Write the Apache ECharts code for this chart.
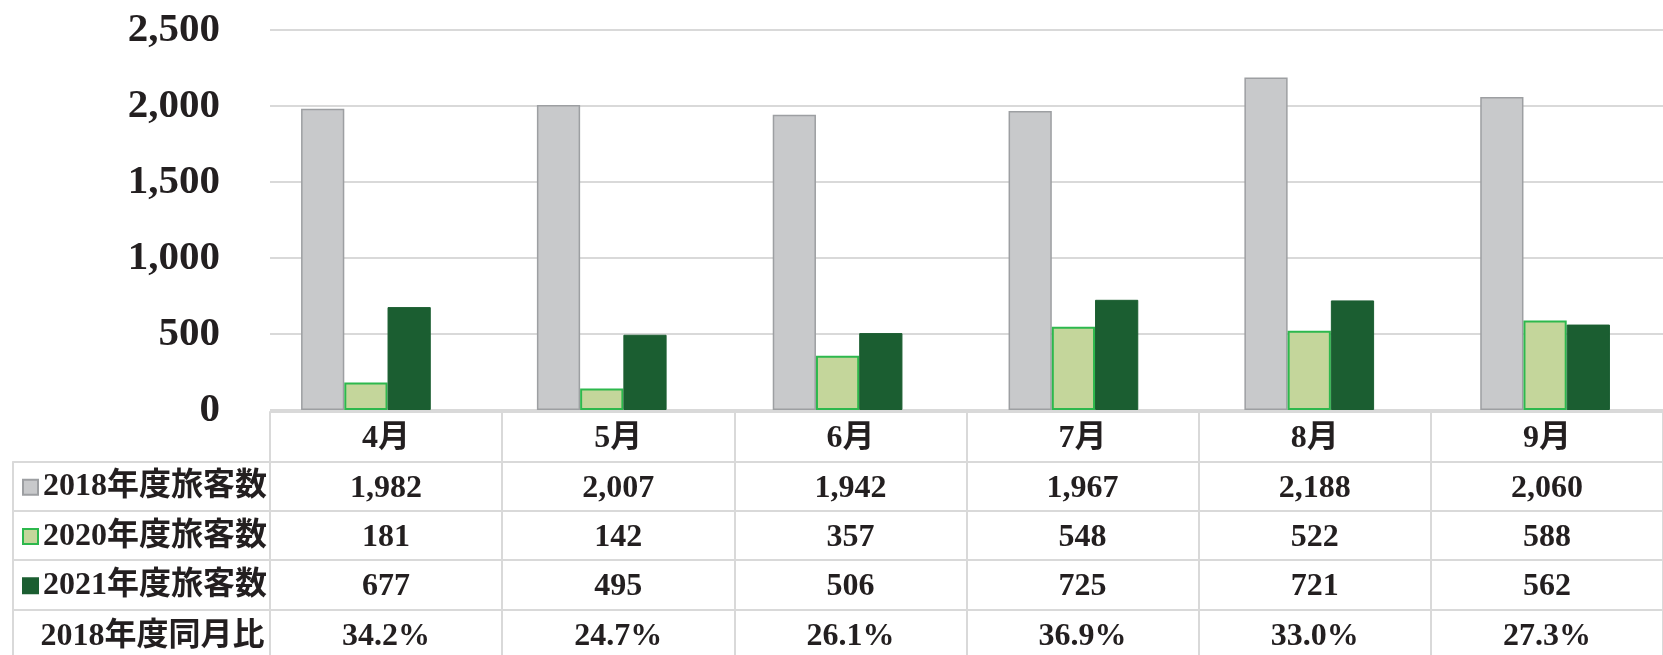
<!DOCTYPE html>
<html>
<head>
<meta charset="utf-8">
<script src="https://cdn.jsdelivr.net/npm/echarts@6/dist/echarts.min.js"></script>
<style>
  html, body { margin: 0; padding: 0; background: #fff; }
  #chart { width: 1663px; height: 655px; }
</style>
</head>
<body>
<div id="chart"></div>
<script>
const months = ['4月', '5月', '6月', '7月', '8月', '9月'];
const seriesNames = ['2018年度旅客数', '2020年度旅客数', '2021年度旅客数'];
const pax2018 = [1982, 2007, 1942, 1967, 2188, 2060];
const pax2020 = [181, 142, 357, 548, 522, 588];
const pax2021 = [677, 495, 506, 725, 721, 562];
const ratioLabel = '2018年度同月比';
const ratio2018 = [34.2, 24.7, 26.1, 36.9, 33.0, 27.3];
const yTicks = [0, 500, 1000, 1500, 2000, 2500];

const FONT = "'Liberation Serif', 'Noto Sans CJK JP', serif";
const TEXT = '#231F20';
const LINE = '#D9D9D9';
const ROW_OFFSETS = [2, 51.5, 101, 150, 199.5];
const ROW_H = 50;

const fmt = v => v.toLocaleString('en-US');

// one table row = one category axis hanging below the plot
function tableAxis(gridIndex, data, offset, labelExtra) {
  return {
    type: 'category',
    gridIndex: gridIndex,
    position: 'bottom',
    offset: offset,
    data: data,
    axisLine: { show: true, onZero: false, lineStyle: { color: LINE, width: 2 } },
    axisTick: { show: true, interval: 0, length: ROW_H, lineStyle: { color: LINE, width: 2 } },
    axisLabel: Object.assign({
      show: true,
      interval: 0,
      margin: 27,
      verticalAlign: 'middle',
      fontSize: 32,
      fontWeight: 'bold',
      fontFamily: FONT,
      color: TEXT
    }, labelExtra || {}),
    splitLine: { show: false }
  };
}

function barSeries(name, data, fill, border, bw) {
  return {
    name: name,
    type: 'bar',
    xAxisIndex: 9,
    yAxisIndex: 1,
    data: data,
    barGap: '0%',
    barCategoryGap: '45%',
    itemStyle: { color: fill, borderColor: border, borderWidth: bw },
    emphasis: { disabled: true }
  };
}

const chart = echarts.init(document.getElementById('chart'));

const option = {
  animation: false,
  backgroundColor: '#fff',
  grid: [
    { left: 270, top: 30, height: 380, width: 1416 },   // gridlines + table
    { left: 248, top: 30, height: 380, width: 1416 },   // bars
    { left: 13, top: 30, height: 380, width: 257 }      // table label column
  ],
  legend: {
    data: seriesNames,
    orient: 'vertical',
    left: 22,
    top: 462.5,
    padding: 0,
    itemGap: 0,
    itemWidth: 15,
    itemHeight: 15,
    icon: 'rect',
    selectedMode: false,
    textStyle: { fontSize: 32, fontWeight: 'bold', fontFamily: FONT, color: TEXT, lineHeight: 49.3 }
  },
  xAxis: [
    tableAxis(0, months, ROW_OFFSETS[0]),
    tableAxis(0, pax2018.map(fmt), ROW_OFFSETS[1]),
    tableAxis(0, pax2020.map(fmt), ROW_OFFSETS[2]),
    tableAxis(0, pax2021.map(fmt), ROW_OFFSETS[3]),
    tableAxis(0, ratio2018.map(v => v.toFixed(1) + '%'), ROW_OFFSETS[4]),
    tableAxis(2, [''], ROW_OFFSETS[1], { show: false }),
    tableAxis(2, [''], ROW_OFFSETS[2], { show: false }),
    tableAxis(2, [''], ROW_OFFSETS[3], { show: false }),
    tableAxis(2, [ratioLabel], ROW_OFFSETS[4], { padding: [0, 0, 0, 22] }),
    { type: 'category', gridIndex: 1, data: months, show: false }
  ],
  yAxis: [
    {
      type: 'value',
      gridIndex: 0,
      min: yTicks[0],
      max: yTicks[yTicks.length - 1],
      interval: yTicks[1] - yTicks[0],
      axisLine: { show: false },
      axisTick: { show: false },
      axisLabel: {
        margin: 50,
        formatter: v => fmt(v),
        fontSize: 41,
        fontWeight: 'bold',
        fontFamily: FONT,
        color: TEXT
      },
      splitLine: { lineStyle: { color: LINE, width: 2 } }
    },
    { type: 'value', gridIndex: 1, min: 0, max: 2500, show: false, splitLine: { show: false } },
    { type: 'value', gridIndex: 2, min: 0, max: 1, show: false, splitLine: { show: false } }
  ],
  series: [
    barSeries(seriesNames[0], pax2018, '#C8C9CB', '#9D9FA2', 1.5),
    barSeries(seriesNames[1], pax2020, '#C4D69B', '#2DB84D', 2),
    barSeries(seriesNames[2], pax2021, '#1B5E31', '#1B5E31', 1)
  ]
};

chart.setOption(option);
</script>
</body>
</html>
